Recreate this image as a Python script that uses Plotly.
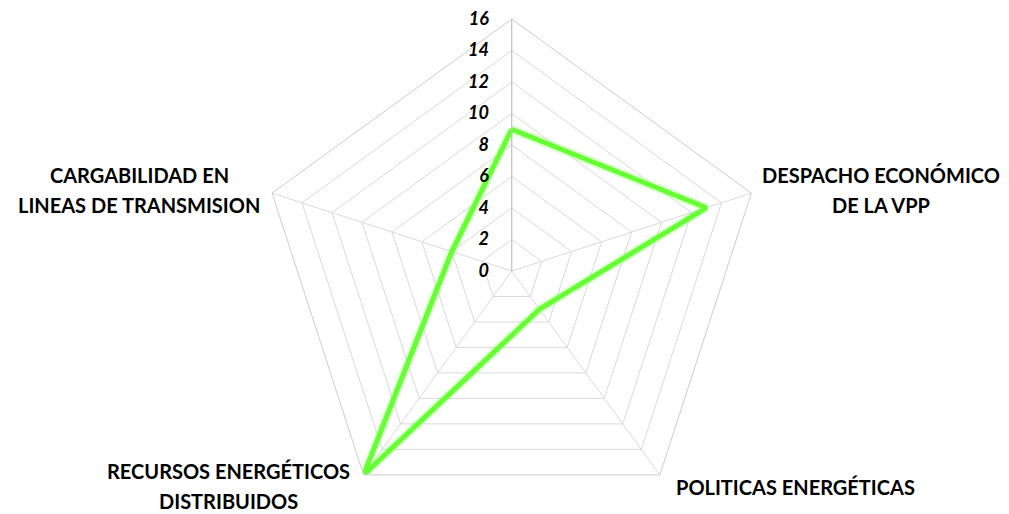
import plotly.graph_objects as go

# Radar categories, clockwise from the top spoke (the top spoke has no name)
categories = ["A", "B", "C", "D", "E"]
category_labels = [
    "",
    "DESPACHO ECONÓMICO<br>DE LA VPP",
    "POLITICAS ENERGÉTICAS",
    "RECURSOS ENERGÉTICOS<br>DISTRIBUIDOS",
    "CARGABILIDAD EN<br>LINEAS DE TRANSMISION",
]
values = [9, 13, 3, 16, 4]
radial_ticks = list(range(0, 17, 2))

theta = categories + categories[:1]
r = values + values[:1]

W, H = 1009, 523

fig = go.Figure()
# soft glow under the series line
fig.add_trace(go.Scatterpolar(
    r=r, theta=theta, mode="lines",
    line=dict(color="rgba(102,255,51,0.22)", width=9),
    hoverinfo="skip", showlegend=False,
))
fig.add_trace(go.Scatterpolar(
    r=r, theta=theta, mode="lines",
    line=dict(color="#66ff33", width=5),
    hoverinfo="skip", showlegend=False,
))

# category names: centre x and first-line centre y (pixels), lines 30 px apart
label_pos = {
    "B": (881, 175),
    "C": (795, 487),
    "D": (228, 471),
    "E": (139, 175),
}
line_gap = 30
annotations = []
for cat, text in zip(categories, category_labels):
    if not text:
        continue
    px, py = label_pos[cat]
    for i, line in enumerate(text.split("<br>")):
        annotations.append(dict(
            text=f"<b>{line}</b>", xref="paper", yref="paper",
            x=px / W, y=1 - (py + i * line_gap) / H,
            xanchor="center", yanchor="middle",
            showarrow=False,
            font=dict(family="Lato", size=20, color="black"),
        ))

fig.update_layout(
    width=W,
    height=H,
    margin=dict(l=0, r=0, t=0, b=0),
    paper_bgcolor="white",
    plot_bgcolor="white",
    font=dict(family="Lato", color="black"),
    annotations=annotations,
    polar=dict(
        domain=dict(x=[0.2574, 0.7569], y=[0.0, 504 / H]),
        bgcolor="white",
        gridshape="linear",
        radialaxis=dict(
            range=[0, 16],
            tickvals=radial_ticks,
            ticktext=[f"<b><i>{v}</i></b>" for v in radial_ticks],
            angle=90,
            side="counterclockwise",
            tickangle=90,
            showline=True,
            linecolor="#bfbfbf",
            linewidth=1,
            gridcolor="#d9d9d9",
            gridwidth=1,
            ticks="outside",
            ticklen=16,
            tickcolor="rgba(0,0,0,0)",
            tickfont=dict(family="Lato", size=18, color="black"),
        ),
        angularaxis=dict(
            rotation=90,
            direction="clockwise",
            showline=True,
            linecolor="#cccccc",
            linewidth=1,
            gridcolor="#d9d9d9",
            ticks="",
            showticklabels=False,
        ),
    ),
)

fig.write_html("out.html", post_script="document.body.style.overflow='hidden';document.body.style.margin='0';")
